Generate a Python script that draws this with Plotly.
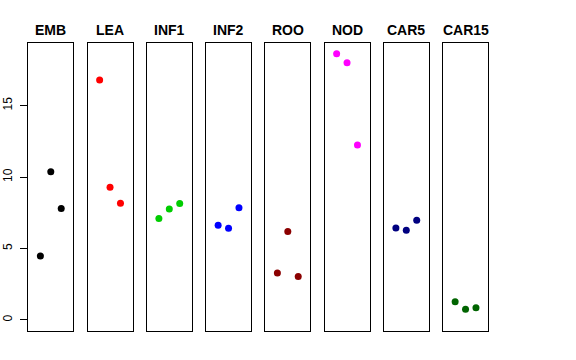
import plotly.graph_objects as go

categories = ["EMB", "LEA", "INF1", "INF2", "ROO", "NOD", "CAR5", "CAR15"]
colors = ["#000000", "#FF0000", "#00CD00", "#0000FF", "#8B0000", "#FF00FF", "#000080", "#006400"]
x_pos = [1, 2, 3]
values = {
    "EMB":   [4.48, 10.37, 7.79],
    "LEA":   [16.78, 9.28, 8.16],
    "INF1":  [7.09, 7.76, 8.14],
    "INF2":  [6.62, 6.41, 7.85],
    "ROO":   [3.29, 6.18, 3.05],
    "NOD":   [18.62, 17.99, 12.24],
    "CAR5":  [6.43, 6.27, 6.97],
    "CAR15": [1.28, 0.75, 0.86],
}
y_ticks = [0, 5, 10, 15]

W, H = 576, 360
left0, step, pw = 28.3, 59.25, 45.0
top_px, bot_px = 43.3, 331.0
ydom = [1 - bot_px / H, 1 - top_px / H]
yrange = [-0.77, 19.35]
xrange = [-0.16, 4.16]

fig = go.Figure()
annotations = []
for i, cat in enumerate(categories):
    n = "" if i == 0 else str(i + 1)
    x0 = (left0 + i * step) / W
    x1 = (left0 + i * step + pw) / W
    fig.add_trace(go.Scatter(
        x=x_pos, y=values[cat], mode="markers",
        marker=dict(color=colors[i], size=7, line=dict(width=0)),
        xaxis="x" + n, yaxis="y" + n, showlegend=False, hoverinfo="y"))
    fig.layout["xaxis" + n] = dict(domain=[x0, x1], range=xrange, showgrid=False,
                                   zeroline=False, showticklabels=False, ticks="",
                                   showline=True, mirror=True, linecolor="black",
                                   linewidth=1, anchor="y" + n, automargin=False)
    ykw = dict(domain=ydom, range=yrange, showgrid=False, zeroline=False,
               showline=True, mirror=True, linecolor="black", linewidth=1,
               anchor="x" + n, automargin=False)
    if i == 0:
        ykw.update(tickvals=y_ticks, ticks="outside", ticklen=7, tickcolor="black",
                   tickangle=-90, ticklabelstandoff=4,
                   tickfont=dict(size=12, color="black",
                                 family="Liberation Sans, Arial, sans-serif"))
    else:
        ykw.update(showticklabels=False, ticks="")
    fig.layout["yaxis" + n] = ykw
    annotations.append(dict(text="<b>" + cat + "</b>", x=(x0 + x1) / 2, y=1 - 30 / H,
                            xref="paper", yref="paper", showarrow=False,
                            xanchor="center", yanchor="middle",
                            font=dict(size=14, color="black",
                                      family="Liberation Sans, Arial, sans-serif")))

fig.update_layout(width=W, height=H, margin=dict(l=0, r=0, t=0, b=0),
                  paper_bgcolor="white", plot_bgcolor="white",
                  annotations=annotations)
fig.write_html("out.html", config={"displayModeBar": False},
               post_script="document.body.style.margin='0';")
